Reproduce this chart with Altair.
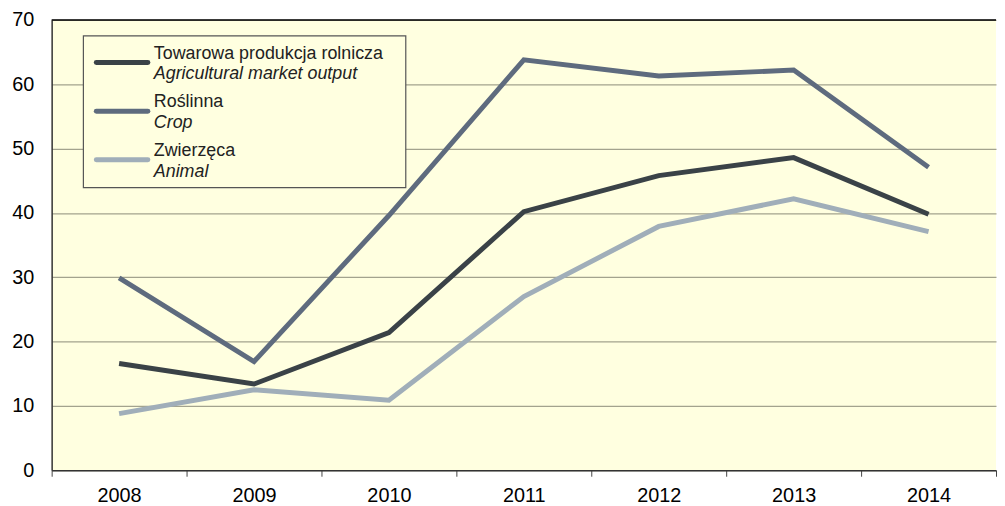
import altair as alt
import pandas as pd

years = ["2008", "2009", "2010", "2011", "2012", "2013", "2014"]
market = [16.6, 13.4, 21.4, 40.2, 45.8, 48.6, 39.8]
crop = [29.9, 16.9, 39.6, 63.8, 61.3, 62.2, 47.1]
animal = [8.8, 12.5, 10.9, 27.0, 37.9, 42.2, 37.1]

series_pl = ["Towarowa produkcja rolnicza", "Roślinna", "Zwierzęca"]
series_en = ["Agricultural market output", "Crop", "Animal"]
colors = ["#3A4247", "#5E6B7E", "#A0AEB9"]

rows = []
for name, vals in zip(series_pl, [market, crop, animal]):
    for y, v in zip(years, vals):
        rows.append({"year": y, "value": v, "series": name})
df = pd.DataFrame(rows)

W, H = 952, 454
FONT = "Liberation Sans"

color_scale = alt.Scale(domain=series_pl, range=colors)
yscale = alt.Scale(domain=[0, 70], nice=False)

base = alt.Chart(df)

lines = base.mark_line(strokeWidth=5, strokeJoin="miter").encode(
    x=alt.X("year:N", sort=years,
            scale=alt.Scale(type="band", paddingInner=0, paddingOuter=0),
            axis=alt.Axis(title=None, labelAngle=0, tickBand="extent", tickSize=6,
                          tickColor="#444", domainColor="#333", domainWidth=1.5,
                          labelFontSize=20, labelFont=FONT, labelColor="#000",
                          labelPadding=9, grid=False)),
    y=alt.Y("value:Q", scale=yscale,
            axis=alt.Axis(title=None, values=list(range(0, 80, 10)), tickSize=0,
                          labelFontSize=20, labelFont=FONT, labelColor="#000",
                          labelPadding=18, grid=True, gridColor="#A3A38E",
                          gridWidth=1.2, domainColor="#333", domainWidth=1.5)),
    color=alt.Color("series:N", scale=color_scale, legend=None),
    order=alt.Order("series:N"),
)

top_border = alt.Chart(pd.DataFrame({"top": [70]})).mark_rule(color="#000", strokeWidth=1.5).encode(
    y=alt.Y("top:Q", scale=yscale, axis=None)
)

# custom legend
leg_rows = []
for i, (pl, en) in enumerate(zip(series_pl, series_en)):
    y1 = 34 + i * 49
    leg_rows.append({"series": pl, "en": en, "y1": y1, "y2": y1 + 21, "ys": y1 + 9,
                     "xs": 45, "xs2": 97, "xt": 103})
leg = pd.DataFrame(leg_rows)

box = alt.Chart(pd.DataFrame({"a": [0]})).mark_rect(
    fill="#FFFFE0", stroke="#555", strokeWidth=1.2
).encode(x=alt.value(32), x2=alt.value(357), y=alt.value(16), y2=alt.value(169))

leg_base = alt.Chart(leg)
sym = leg_base.mark_rule(strokeWidth=5, strokeCap="round").encode(
    x=alt.X("xs:Q", scale=None), x2="xs2:Q",
    y=alt.Y("ys:Q", scale=None),
    color=alt.Color("series:N", scale=color_scale, legend=None),
)
t1 = leg_base.mark_text(align="left", baseline="middle", fontSize=18, font=FONT,
                        color="#222").encode(
    x=alt.X("xt:Q", scale=None), y=alt.Y("y1:Q", scale=None), text="series:N")
t2 = leg_base.mark_text(align="left", baseline="middle", fontSize=18, font=FONT,
                        fontStyle="italic", color="#222").encode(
    x=alt.X("xt:Q", scale=None), y=alt.Y("y2:Q", scale=None), text="en:N")

chart = alt.layer(lines, top_border, box, sym, t1, t2).resolve_scale(
    x="independent", y="independent"
).properties(
    width=W, height=H, background="#FFFFFF",
    padding={"left": 3, "top": 0, "right": 0, "bottom": 0},
).configure_view(fill="#FFFFE0", stroke=None)

chart.save("out.html", embed_options={"renderer": "svg", "actions": False})
